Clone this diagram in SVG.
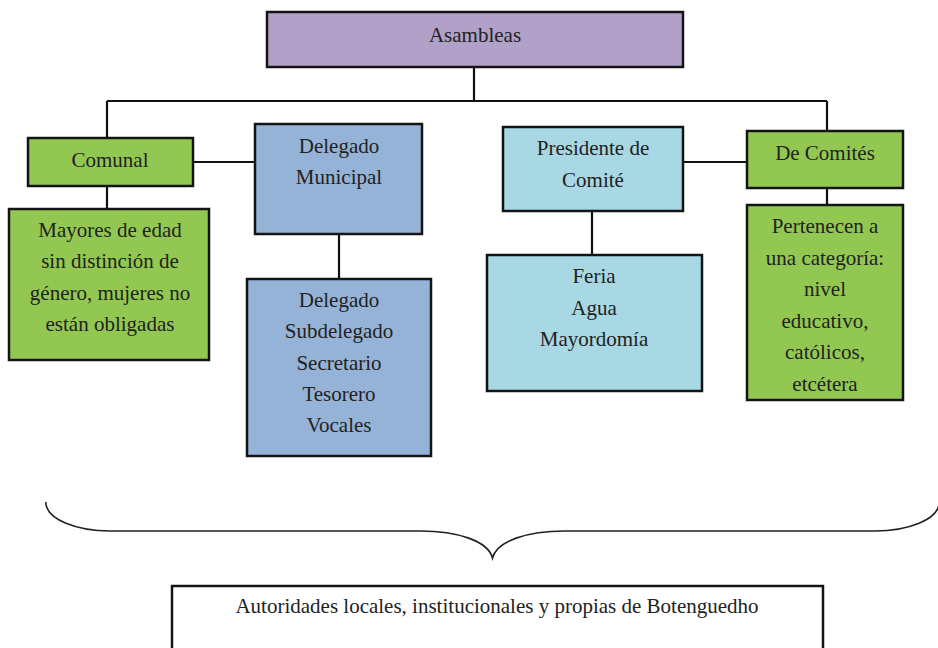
<svg xmlns="http://www.w3.org/2000/svg" width="938" height="648" viewBox="0 0 938 648">
<defs>
<style>
.box{stroke:#141414;stroke-width:2.5}
.purple{fill:#b1a0c7}
.green{fill:#92c852}
.blue{fill:#95b3d7}
.aqua{fill:#a7d8e4}
.plain{fill:#ffffff}
text{font-family:"Liberation Serif","Times New Roman",serif;font-size:21px;fill:#222;text-anchor:middle}
.conn{stroke:#111;stroke-width:2.2;fill:none}
.brace{stroke:#222;stroke-width:1.6;fill:none}
</style>
</defs>
<rect width="938" height="648" fill="#ffffff"/>
<g id="connectors">
<path class="conn" d="M474,67 V101 M107,101 H827 M107,101 V138 M827,101 V131 M107,186 V209 M193,162 H255 M339,234 V279 M683,162 H747 M592,211 V255 M827,188 V205"/>
</g>
<g id="asambleas">
<rect class="box purple" x="267" y="12" width="416" height="55"/>
<text x="475" y="42">Asambleas</text>
</g>
<g id="comunal">
<rect class="box green" x="28" y="138" width="165" height="48"/>
<text x="110" y="167">Comunal</text>
</g>
<g id="mayores">
<rect class="box green" x="9" y="209" width="200" height="151"/>
<text x="110" y="237">Mayores de edad</text>
<text x="110" y="268">sin distinción de</text>
<text x="110" y="300">género, mujeres no</text>
<text x="110" y="331">están obligadas</text>
</g>
<g id="delegado-municipal">
<rect class="box blue" x="255" y="124" width="167" height="110"/>
<text x="339" y="153">Delegado</text>
<text x="339" y="184">Municipal</text>
</g>
<g id="delegado-cargos">
<rect class="box blue" x="247" y="279" width="184" height="177"/>
<text x="339" y="307">Delegado</text>
<text x="339" y="338">Subdelegado</text>
<text x="339" y="370">Secretario</text>
<text x="339" y="401">Tesorero</text>
<text x="339" y="432">Vocales</text>
</g>
<g id="presidente-comite">
<rect class="box aqua" x="503" y="127" width="180" height="84"/>
<text x="593" y="155">Presidente de</text>
<text x="593" y="187">Comité</text>
</g>
<g id="comites-lista">
<rect class="box aqua" x="487" y="255" width="215" height="136"/>
<text x="594" y="283">Feria</text>
<text x="594" y="315">Agua</text>
<text x="594" y="346">Mayordomía</text>
</g>
<g id="de-comites">
<rect class="box green" x="747" y="131" width="156" height="57"/>
<text x="825" y="160">De Comités</text>
</g>
<g id="pertenecen">
<rect class="box green" x="747" y="205" width="156" height="195"/>
<text x="825" y="233">Pertenecen a</text>
<text x="825" y="265">una categoría:</text>
<text x="825" y="296">nivel</text>
<text x="825" y="328">educativo,</text>
<text x="825" y="359">católicos,</text>
<text x="825" y="391">etcétera</text>
</g>
<g id="llave">
<path class="brace" d="M45.7,502 C46,520 78,531 110,531 L420,531 C458,531 488,541 492.5,558 C497,541 527,531 565,531 L875,531 C907,531 939,520 939.3,502"/>
</g>
<g id="autoridades">
<rect class="box plain" x="172" y="586" width="651" height="70"/>
<text x="497" y="613">Autoridades locales, institucionales y propias de Botenguedho</text>
</g>
</svg>
